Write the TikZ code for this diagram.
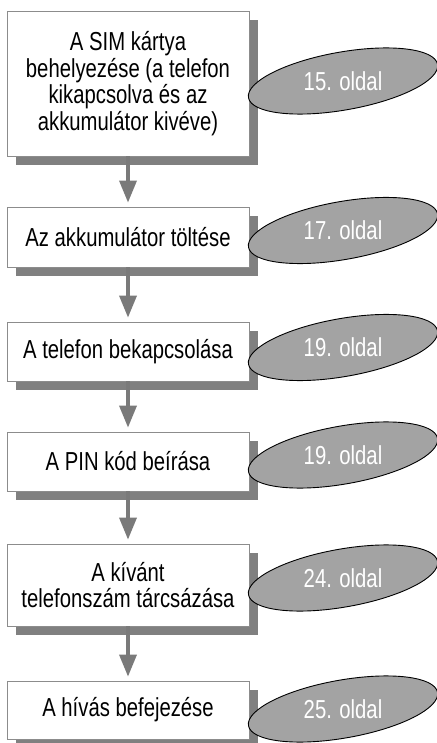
\documentclass[tikz,border=0pt]{standalone}
\usepackage{fontspec}
\setmainfont{Liberation Sans}[FakeStretch=0.78]
\usepackage{tikz}
\usetikzlibrary{positioning,shapes.geometric,shadows,arrows.meta}
\definecolor{boxline}{HTML}{8C8C8C}
\definecolor{shadegray}{HTML}{808080}
\definecolor{badgegray}{HTML}{A3A3A3}
\definecolor{arrowgray}{HTML}{7A7A7A}
\tikzset{
  stepbox/.style={draw=boxline, line width=0.8pt, fill=white, minimum width=242pt,
    inner sep=0pt, align=center, font=\fontsize{26}{26.6}\selectfont,
    drop shadow={fill=shadegray, opacity=1, shadow xshift=9pt, shadow yshift=-9pt}},
  pagebadge/.style={ellipse, draw=black, line width=0.9pt, fill=badgegray,
    minimum width=192pt, minimum height=58pt, inner sep=0pt, rotate=10},
  pagetext/.style={text=white, font=\fontsize{26}{26.6}\selectfont},
  flowarrow/.style={draw=arrowgray, line width=3.5pt,
    -{Triangle[length=22pt,width=17pt]}, shorten >=4pt}
}

\begin{document}
\begin{tikzpicture}[x=1pt,y=-1pt]
\useasboundingbox (0,0) rectangle (436,743);
\node[stepbox, minimum height=145pt] (sim) at (128,83.5) {A SIM kártya\\behelyezése (a telefon\\kikapcsolva és az\\akkumulátor kivéve)};
\node[stepbox, minimum height=60pt] (charge) at (128,237) {Az akkumulátor töltése};
\node[stepbox, minimum height=59pt] (poweron) at (128,351.5) {A telefon bekapcsolása};
\node[stepbox, minimum height=59pt] (pin) at (128,461.5) {A PIN kód beírása};
\node[stepbox, minimum height=82pt] (dial) at (128,585) {A kívánt\\telefonszám tárcsázása};
\node[stepbox, minimum height=58pt] (hangup) at (128,710) {A hívás befejezése};
\draw[flowarrow] (sim) -- (charge);
\draw[flowarrow] (charge) -- (poweron);
\draw[flowarrow] (poweron) -- (pin);
\draw[flowarrow] (pin) -- (dial);
\draw[flowarrow] (dial) -- (hangup);
% page references
\node[pagebadge] (simpage) at (343,81) {};
\node[pagetext] (simtxt) at (simpage) {15. oldal};
\node[pagebadge] (chargepage) at (343,230.5) {};
\node[pagetext] (chargetxt) at (chargepage) {17. oldal};
\node[pagebadge] (poweronpage) at (343,347.5) {};
\node[pagetext] (powerontxt) at (poweronpage) {19. oldal};
\node[pagebadge] (pinpage) at (343,455) {};
\node[pagetext] (pintxt) at (pinpage) {19. oldal};
\node[pagebadge] (dialpage) at (343,578) {};
\node[pagetext] (dialtxt) at (dialpage) {24. oldal};
\node[pagebadge] (hanguppage) at (343,709) {};
\node[pagetext] (hanguptxt) at (hanguppage) {25. oldal};
\end{tikzpicture}
\end{document}
